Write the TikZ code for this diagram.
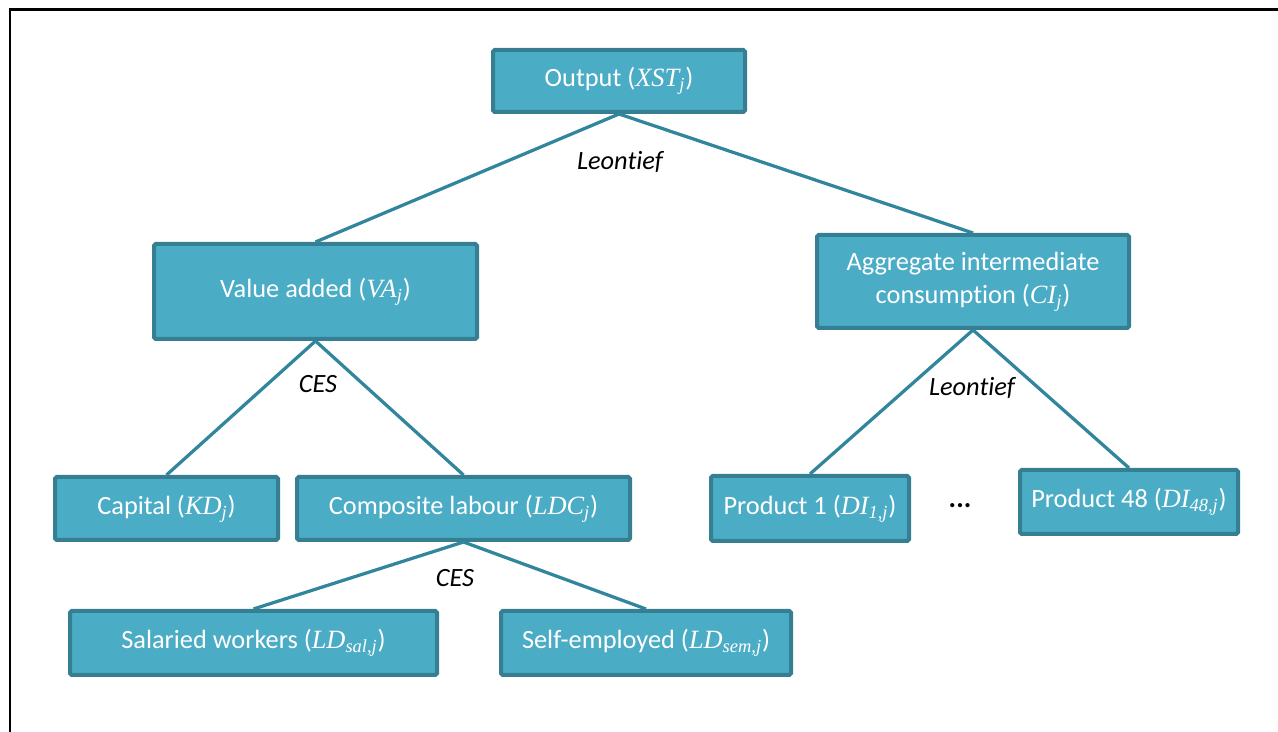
\documentclass[tikz,border=0pt]{standalone}
\usepackage{fontspec}
\setmainfont{Carlito}[Ligatures={NoCommon}]
\newfontfamily\vfont{Liberation Serif}
\newcommand{\mvar}[2]{{\vfont\itshape #1\textsubscript{#2}}}
\definecolor{boxfill}{HTML}{4BACC6}
\definecolor{boxline}{HTML}{367E92}
\definecolor{linkline}{HTML}{31859C}

\begin{document}
\begin{tikzpicture}[x=0.02cm,y=-0.02cm,
  box/.style={draw=boxline, fill=boxfill, line width=0.08cm, rounded corners=1pt,
    text=white, align=center, inner sep=0pt, font=\fontsize{15}{19}\selectfont},
  sz/.style 2 args={minimum width=#1*0.02cm, minimum height=#2*0.02cm},
  link/.style={draw=linkline, line width=0.065cm},
  rule/.style={font=\fontsize{15}{18}\selectfont\itshape, inner sep=0pt}]
  \useasboundingbox (0,0) rectangle (1278,732);
  \draw [line width=0.06cm] (1278,10) -- (10,10) -- (10,732);
  \node [box, sz={252}{62}] (xst) at (619,81) {Output (\mvar{XST}{j})};
  \node [box, sz={323}{95}] (va) at (315.5,291.5) {Value added (\mvar{VA}{j})};
  \node [box, sz={312}{93}] (ci) at (973,281.5) {Aggregate intermediate\\consumption (\mvar{CI}{j})};
  \node [box, sz={223}{63}] (kd) at (166.5,508.5) {Capital (\mvar{KD}{j})};
  \node [box, sz={333}{63}] (ldc) at (463.5,508.5) {Composite labour (\mvar{LDC}{j})};
  \node [box, sz={198}{65}] (di1) at (810,508.5) {Product 1 (\mvar{DI}{1,j})};
  \node [box, sz={218}{64}] (di48) at (1129,502) {Product 48 (\mvar{DI}{48,j})};
  \node [box, sz={367}{64}] (sal) at (253.5,643) {Salaried workers (\mvar{LD}{sal,j})};
  \node [box, sz={290}{64}] (sem) at (646,643) {Self-employed (\mvar{LD}{sem,j})};
  \draw [link] (xst.south) -- (va.north);
  \draw [link] (xst.south) -- (ci.north);
  \draw [link] (va.south) -- (kd.north);
  \draw [link] (va.south) -- (ldc.north);
  \draw [link] (ci.south) -- (di1.north);
  \draw [link] (ci.south) -- (di48.north);
  \draw [link] (ldc.south) -- (sal.north);
  \draw [link] (ldc.south) -- (sem.north);
  \node [rule] (leo1) at (620,162) {Leontief};
  \node [rule] (ces1) at (318,384) {CES};
  \node [rule] (leo2) at (972,388) {Leontief};
  \node [rule] (ces2) at (455,578) {CES};
  \node [inner sep=0pt, font=\fontsize{16}{18}\selectfont\bfseries] (dots) at (960,506) {...};
\end{tikzpicture}
\end{document}
